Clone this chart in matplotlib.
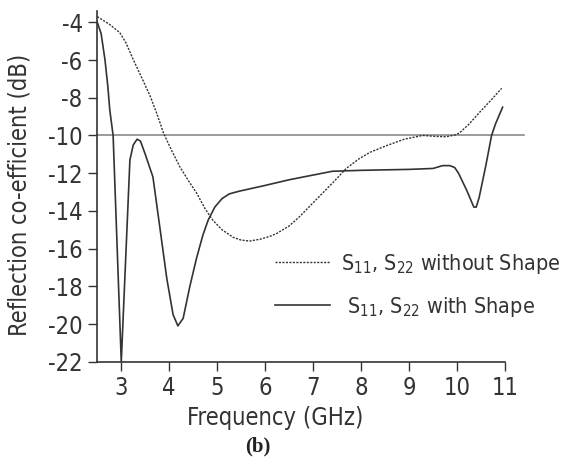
import matplotlib
matplotlib.use('Agg')
import matplotlib.pyplot as plt
from matplotlib import font_manager

# S11, S22 without shape (dotted)
freq_plain = [2.50, 2.75, 2.97, 3.10, 3.25, 3.42, 3.60, 3.75, 3.88, 4.05, 4.22, 4.40,
              4.57, 4.75, 4.91, 5.10, 5.33, 5.50, 5.68, 5.90, 6.10, 6.24, 6.50, 6.72,
              6.95, 7.20, 7.45, 7.69, 7.95, 8.18, 8.52, 8.90, 9.28, 9.55, 9.77, 9.95,
              10.05, 10.25, 10.46, 10.70, 10.93]
s_plain = [-3.7, -4.1, -4.55, -5.1, -5.98, -6.9, -7.9, -8.9, -9.87, -10.8, -11.66, -12.4,
           -13.05, -13.9, -14.5, -15.0, -15.4, -15.55, -15.6, -15.5, -15.35, -15.2, -14.8, -14.3,
           -13.7, -13.05, -12.4, -11.75, -11.25, -10.9, -10.55, -10.2, -10.0, -10.05, -10.07, -9.98,
           -9.87, -9.4, -8.8, -8.15, -7.5]

# S11, S22 with shape (solid)
freq_shape = [2.50, 2.58, 2.66, 2.72, 2.76, 2.83, 3.00, 3.18, 3.25, 3.33, 3.40, 3.50,
              3.66, 3.80, 3.95, 4.08, 4.18, 4.29, 4.43, 4.57, 4.70, 4.81, 4.95, 5.10,
              5.25, 5.47, 6.00, 6.50, 7.00, 7.40, 8.00, 9.00, 9.50, 9.70, 9.85, 9.95,
              10.03, 10.20, 10.35, 10.40, 10.46, 10.60, 10.72, 10.80, 10.95]
s_shape = [-4.0, -4.6, -5.98, -7.4, -8.64, -10.0, -22.0, -11.3, -10.5, -10.2, -10.3, -11.0,
           -12.2, -14.8, -17.6, -19.5, -20.1, -19.7, -18.0, -16.5, -15.3, -14.5, -13.8, -13.35,
           -13.1, -12.95, -12.65, -12.35, -12.1, -11.9, -11.85, -11.8, -11.75, -11.6, -11.6, -11.7,
           -12.0, -12.9, -13.8, -13.8, -13.3, -11.6, -10.0, -9.4, -8.5]

xticks = [3, 4, 5, 6, 7, 8, 9, 10, 11]
yticks = [-4, -6, -8, -10, -12, -14, -16, -18, -20, -22]
threshold = -10

plt.rcParams['axes.unicode_minus'] = False

# condensed face if there is one
cond = [f for f in font_manager.fontManager.ttflist
        if 'Condensed' in f.fname and 'Bold' not in f.fname and 'Oblique' not in f.fname
        and 'Mono' not in f.fname and 'Serif' not in f.fname]
if cond:
    fname = cond[0].fname
    fp = font_manager.FontProperties(fname=fname, size=17)
    fp_leg = font_manager.FontProperties(fname=fname, size=15.5)
else:
    fp = font_manager.FontProperties(family='Liberation Sans', size=15)
    fp_leg = font_manager.FontProperties(family='Liberation Sans', size=14)

ink = '#333333'
fig = plt.figure(figsize=(5.63, 4.68), dpi=100)
ax = fig.add_axes([0.1728, 0.2271, 0.7242, 0.7494])

ax.plot([2.5, 11.4], [threshold, threshold], color='#8a8a8a', lw=1.2, clip_on=False, zorder=1)
ax.plot(freq_plain, s_plain, color=ink, lw=1.0, ls=(0, (1.5, 1.0)),
        label='S$_{\\mathregular{11}}$, S$_{\\mathregular{22}}$ without Shape')
ax.plot(freq_shape, s_shape, color=ink, lw=1.2,
        label=' S$_{\\mathregular{11}}$, S$_{\\mathregular{22}}$ with Shape')

ax.set_xlim(2.5, 11)
ax.set_ylim(-22, -3.4)
ax.set_xticks(xticks)
ax.set_yticks(yticks)
ax.tick_params(direction='out', length=6.5, width=1.0, colors=ink, pad=4)
for lab in ax.get_xticklabels() + ax.get_yticklabels():
    lab.set_fontproperties(fp)
for side in ['top', 'right']:
    ax.spines[side].set_visible(False)
for side in ['left', 'bottom']:
    ax.spines[side].set_color(ink)
    ax.spines[side].set_linewidth(1.2)

leg = ax.legend(frameon=False, loc='upper left', bbox_to_anchor=(0.436, 0.313), prop=fp_leg,
                handlelength=2.56, handletextpad=0.5, labelspacing=0.88,
                borderaxespad=0, borderpad=0)
for t in leg.get_texts():
    t.set_color(ink)

fig.text(20 / 563, 1 - 195 / 468, 'Reflection co-efficient (dB)', rotation=90,
         ha='center', va='center', fontproperties=fp, color=ink)
fig.text(275 / 563, 1 - 418 / 468, 'Frequency (GHz)', ha='center', va='center',
         fontproperties=fp, color=ink)
fig.text(258 / 563, 1 - 446 / 468, '(b)', ha='center', va='center', fontsize=15,
         fontweight='bold', family='Liberation Serif', color='#222222')

fig.savefig('out.png', dpi=100)
